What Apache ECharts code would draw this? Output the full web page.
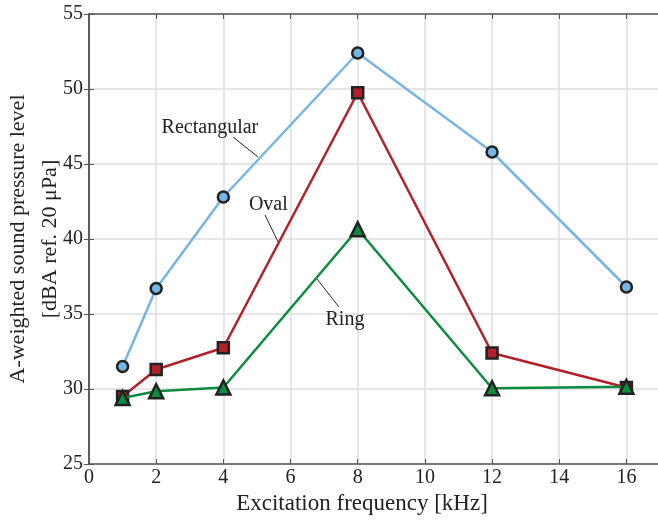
<!doctype html>
<html>
<head>
<meta charset="utf-8">
<title>A-weighted sound pressure level</title>
<script src="https://cdn.jsdelivr.net/npm/echarts@6/dist/echarts.min.js"></script>
<style>
  html, body { margin: 0; padding: 0; background: #fff; }
  #chart { width: 658px; height: 522px; }
</style>
</head>
<body>
<div id="chart"></div>
<script type="text/javascript">
// excitation frequency [kHz]
var freq = [1, 2, 4, 8, 12, 16];
// dBA values
var rectangular = [31.5, 36.7, 42.8, 52.4, 45.8, 36.8];
var oval        = [29.5, 31.3, 32.75, 49.75, 32.4, 30.1];
var ring        = [29.4, 29.85, 30.1, 40.65, 30.05, 30.15];
var xTicks = [0, 2, 4, 6, 8, 10, 12, 14, 16];
var yTicks = [25, 30, 35, 40, 45, 50, 55];

// label text, label position, leader line start/end (data coords)
var notes = [
  { name: 'Rectangular', at: [3.6, 47.4],  from: [4.29, 46.8], to: [5.03, 45.47] },
  { name: 'Oval',        at: [5.34, 42.27], from: [5.24, 41.6], to: [5.63, 39.8] },
  { name: 'Ring',        at: [7.62, 34.6], from: [6.79, 37.33], to: [7.44, 35.47] }
];

var font = '"Liberation Serif", "DejaVu Serif", serif';

function pairs(ys) {
  var out = [];
  for (var i = 0; i < freq.length; i++) out.push([freq[i], ys[i]]);
  return out;
}

var axisCol = '#555';
var gridCol = '#dedede';

var annotation = {
  type: 'line',
  data: [],
  symbol: 'none',
  silent: true,
  z: 1,
  lineStyle: { width: 0 },
  markPoint: {
    symbol: 'rect', symbolSize: 1,
    itemStyle: { color: 'transparent' },
    label: { show: true, position: 'inside', color: '#222', fontFamily: font, fontSize: 20,
      formatter: function (p) { return p.name; } },
    data: notes.map(function (n) { return { name: n.name, coord: n.at }; })
  },
  markLine: {
    symbol: 'none', silent: true, animation: false,
    lineStyle: { color: '#222', width: 1, type: 'solid' },
    label: { show: false },
    data: notes.map(function (n) { return [{ coord: n.from }, { coord: n.to }]; })
  }
};

var option = {
  animation: false,
  backgroundColor: '#fff',
  grid: { left: 89, right: -2, top: 14, bottom: 58, containLabel: false, outerBoundsMode: 'none' },
  xAxis: [{
    type: 'value', min: 0, max: 17, interval: 2,
    name: 'Excitation frequency [kHz]', nameLocation: 'middle', nameGap: 28, nameMoveOverlap: false,
    nameTextStyle: { fontFamily: font, fontSize: 23, color: '#222', padding: [0, 25, 0, 0] },
    axisLine: { show: true, lineStyle: { color: axisCol, width: 1.5 } },
    axisTick: { show: true, inside: true, length: 5, lineStyle: { color: axisCol } },
    axisLabel: { fontFamily: font, fontSize: 20, color: '#222', margin: 4,
      formatter: function (v) { return xTicks.indexOf(v) >= 0 ? String(v) : ''; } },
    splitLine: { show: true, lineStyle: { color: gridCol, width: 1.5 } }
  }, {
    type: 'value', min: 0, max: 17, interval: 2, position: 'top',
    axisLine: { show: true, lineStyle: { color: axisCol, width: 1.5 } },
    axisTick: { show: true, inside: true, length: 5, lineStyle: { color: axisCol } },
    axisLabel: { show: false },
    splitLine: { show: false }
  }],
  yAxis: [{
    type: 'value', min: 25, max: 55, interval: 5,
    name: 'A-weighted sound pressure level\n[dBA ref. 20 \u03bcPa]',
    nameLocation: 'middle', nameGap: 23, nameRotate: 90, nameMoveOverlap: false,
    nameTextStyle: { fontFamily: font, fontSize: 22, color: '#222', lineHeight: 32 },
    axisLine: { show: true, lineStyle: { color: axisCol, width: 1.5 } },
    axisTick: { show: true, inside: true, length: 5, lineStyle: { color: axisCol } },
    axisLabel: { fontFamily: font, fontSize: 20, color: '#222', margin: 6,
      formatter: function (v) { return yTicks.indexOf(v) >= 0 ? String(v) : ''; } },
    splitLine: { show: true, lineStyle: { color: gridCol, width: 1.5 } }
  }, {
    type: 'value', min: 25, max: 55, interval: 5, position: 'right',
    axisLine: { show: true, lineStyle: { color: axisCol, width: 1.5 } },
    axisTick: { show: true, inside: true, length: 5, lineStyle: { color: axisCol } },
    axisLabel: { show: false },
    splitLine: { show: false }
  }],
  series: [
    {
      name: 'Rectangular', type: 'line', data: pairs(rectangular), z: 3,
      symbol: 'circle', symbolSize: 11,
      lineStyle: { color: '#77b5e5', width: 2.5 },
      itemStyle: { color: '#77b5e5', borderColor: '#222', borderWidth: 2.5 }
    },
    {
      name: 'Oval', type: 'line', data: pairs(oval), z: 4,
      symbol: 'rect', symbolSize: 11,
      lineStyle: { color: '#b3202a', width: 2.5 },
      itemStyle: { color: '#b3202a', borderColor: '#222', borderWidth: 2.5 }
    },
    {
      name: 'Ring', type: 'line', data: pairs(ring), z: 5,
      symbol: 'triangle', symbolSize: 14,
      lineStyle: { color: '#0d8c40', width: 2.5 },
      itemStyle: { color: '#0d8c40', borderColor: '#222', borderWidth: 2.5 }
    },
    annotation
  ]
};

var myChart = echarts.init(document.getElementById('chart'));
myChart.setOption(option);
</script>
</body>
</html>
